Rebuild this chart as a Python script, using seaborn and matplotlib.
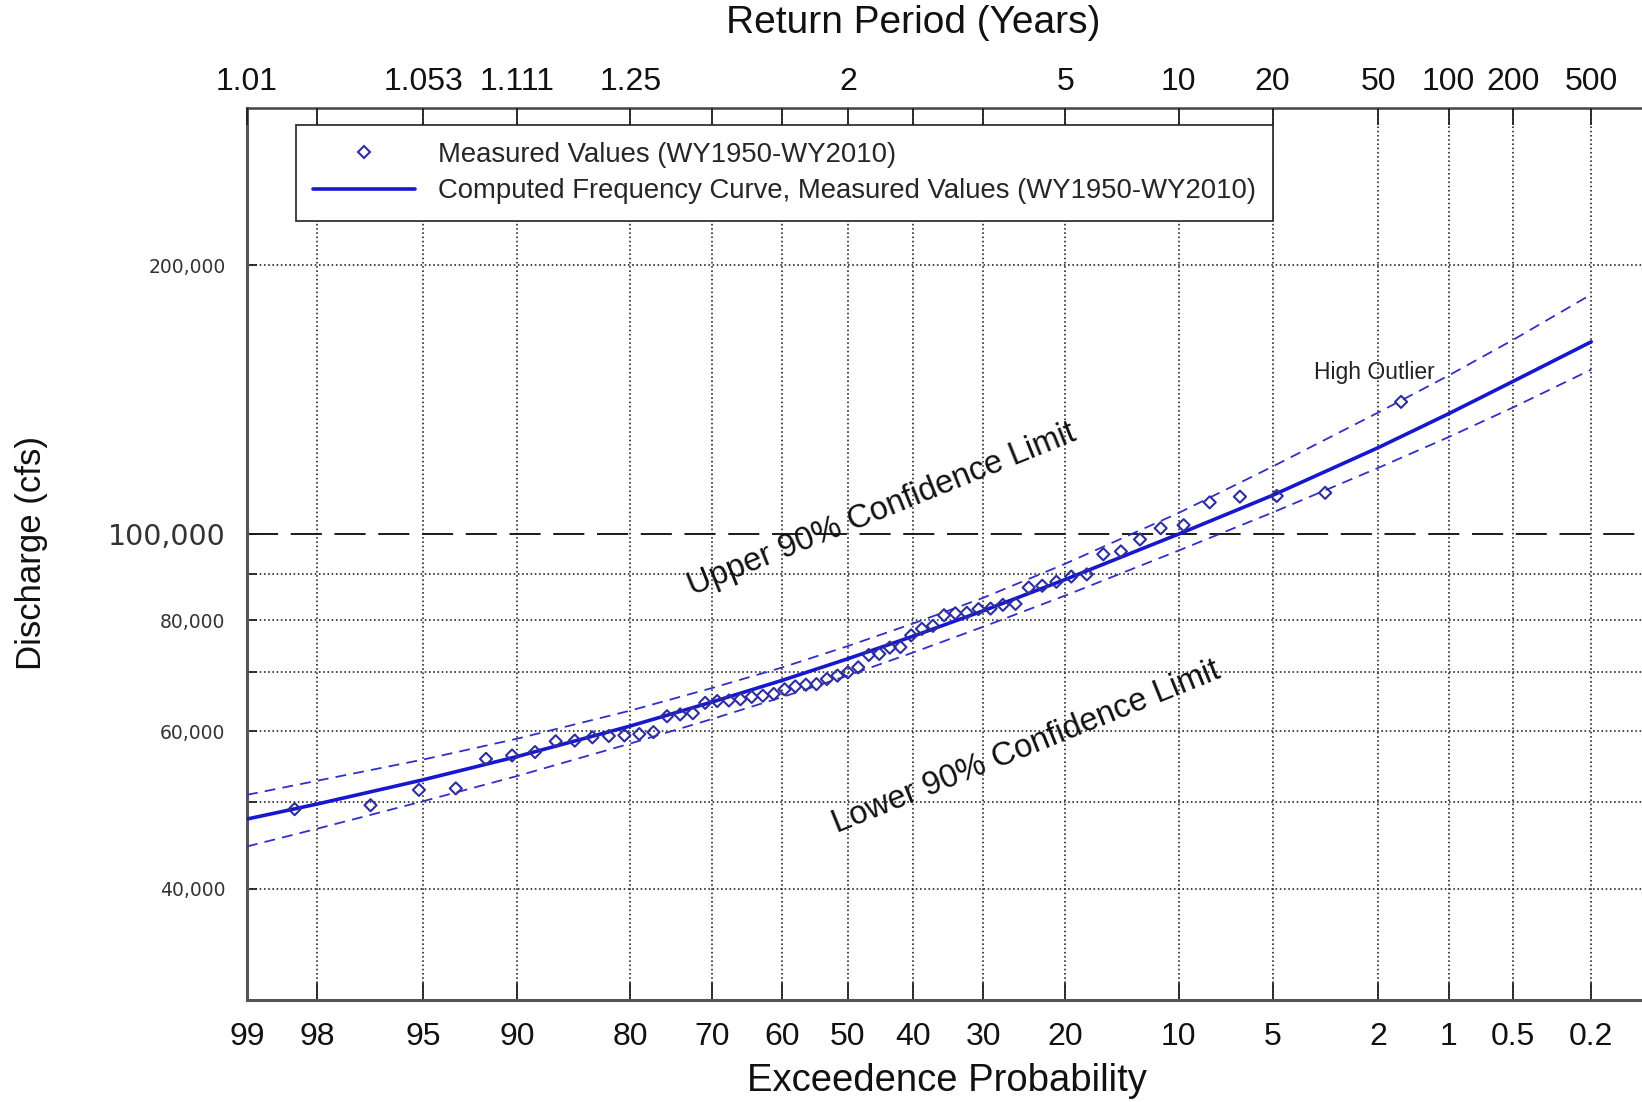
import numpy as np
import pandas as pd
from statistics import NormalDist
import matplotlib
matplotlib.use("Agg")
import matplotlib.pyplot as plt
from matplotlib.lines import Line2D
from matplotlib.ticker import NullLocator
import seaborn as sns

# Ranked annual peaks, WY1950-WY2010 (largest first), exceedance probability in %
measured_exceed = [1.61, 3.23, 4.84, 6.45, 8.06, 9.68, 11.29, 12.90, 14.52, 16.13,
                   17.74, 19.35, 20.97, 22.58, 24.19, 25.81, 27.42, 29.03, 30.65, 32.26,
                   33.87, 35.48, 37.10, 38.71, 40.32, 41.94, 43.55, 45.16, 46.77, 48.39,
                   50.00, 51.61, 53.23, 54.84, 56.45, 58.06, 59.68, 61.29, 62.90, 64.52,
                   66.13, 67.74, 69.35, 70.97, 72.58, 74.19, 75.81, 77.42, 79.03, 80.65,
                   82.26, 83.87, 85.48, 87.10, 88.71, 90.32, 91.94, 93.55, 95.16, 96.77,
                   98.39]
measured_cfs = [140500, 111100, 110200, 110000, 108400, 102200, 101400, 98500, 95500, 94800,
                90000, 89500, 88300, 87400, 87000, 83400, 83200, 82400, 82300, 81500,
                81400, 81000, 78800, 78200, 76900, 74600, 74500, 73300, 73100, 70800,
                69900, 69300, 68700, 67800, 67700, 67400, 66900, 66100, 65800, 65600,
                65200, 65000, 64900, 64600, 62900, 62700, 62400, 59900, 59600, 59400,
                59300, 59100, 58600, 58500, 56900, 56400, 55900, 51800, 51600, 49600,
                49100]

# Computed frequency curve and 90% confidence limits
curve_exceed = [99, 98, 95, 90, 80, 70, 60, 50, 40, 30, 20, 10, 5, 2, 1, 0.5, 0.2]
computed_cfs = [47860, 49760, 52960, 56230, 60860, 64760, 68480, 72390, 76740, 81940,
                88820, 99900, 110400, 124850, 136270, 148150, 164060]
upper_cfs = [50950, 52840, 55800, 58880, 63330, 67140, 70790, 74800, 79300, 84730,
             92500, 105500, 118900, 136700, 150400, 164900, 185400]
lower_cfs = [44590, 46690, 50110, 53470, 58170, 61980, 65580, 69300, 73580, 78630,
             85210, 95740, 105600, 118500, 128300, 138500, 152700]

reference_cfs = 100000

prob_ticks = [99, 98, 95, 90, 80, 70, 60, 50, 40, 30, 20, 10, 5, 2, 1, 0.5, 0.2]
prob_labels = ["99", "98", "95", "90", "80", "70", "60", "50", "40", "30", "20",
               "10", "5", "2", "1", "0.5", "0.2"]
period_labels = ["1.01", "", "1.053", "1.111", "1.25", "", "", "2", "", "", "5",
                 "10", "20", "50", "100", "200", "500"]
q_ticks = [40000, 50000, 60000, 70000, 80000, 90000, 100000, 200000]
q_labels = ["40,000", "", "60,000", "", "80,000", "", "100,000", "200,000"]

legend_labels = ["Measured Values (WY1950-WY2010)",
                 "Computed Frequency Curve, Measured Values (WY1950-WY2010)"]

line_blue = "#1717cf"
dash_blue = "#3030c8"
marker_blue = "#2e2e9e"

# normal probability scale for the x axis
_nd = NormalDist()
_ppf = np.vectorize(_nd.inv_cdf, otypes=[float])
_cdf = np.vectorize(_nd.cdf, otypes=[float])


def prob_fwd(p):
    p = np.clip(np.asarray(p, dtype=float), 1e-5, 100 - 1e-5)
    return _ppf(p / 100.0)


def prob_inv(z):
    return 100.0 * _cdf(np.asarray(z, dtype=float))


sns.set_theme(style="white")
plt.rcParams["font.family"] = ["Liberation Sans", "DejaVu Sans"]

fig = plt.figure(figsize=(16.42, 11.02), dpi=100)
ax = fig.add_axes([0.15043, 0.09256, 0.852, 0.80944])
ax.set_xscale("function", functions=(prob_fwd, prob_inv))
ax.set_yscale("log")

curves = pd.DataFrame({"exceed": curve_exceed, "computed": computed_cfs,
                       "upper": upper_cfs, "lower": lower_cfs})

ax.axhline(reference_cfs, color="k", lw=1.4, linestyle=(0, (16, 6.5)), zorder=2)
for col in ["upper", "lower"]:
    sns.lineplot(data=curves, x="exceed", y=col, ax=ax, color=dash_blue, lw=1.3,
                 linestyle=(0, (6, 4)), sort=False, estimator=None, zorder=3)
sns.lineplot(data=curves, x="exceed", y="computed", ax=ax, color=line_blue, lw=2.6,
             sort=False, estimator=None, zorder=4)
sns.scatterplot(x=measured_exceed, y=measured_cfs, ax=ax, marker="D", s=38,
                facecolor="none", edgecolor=marker_blue, linewidth=1.5, zorder=5)

ax.set_xlim(99, 0.1)
ax.set_ylim(30000, 300000)
ax.set_xlabel("")
ax.set_ylabel("")

ax.set_xticks(prob_ticks, prob_labels)
ax.set_yticks(q_ticks, q_labels)
ax.xaxis.set_minor_locator(NullLocator())
ax.yaxis.set_minor_locator(NullLocator())

ax.grid(True, which="major", color="k", linestyle=":", lw=1.15)
ax.yaxis.get_gridlines()[q_ticks.index(reference_cfs)].set_visible(False)

ax.tick_params(axis="x", direction="in", length=12, width=1.3, color="#222",
               pad=16, labelsize=23, labelcolor="#111", bottom=True, top=False)
ax.tick_params(axis="y", direction="in", length=7, width=1.3, color="#222",
               pad=15.5, labelsize=13.5, labelcolor="#333", left=True, right=False)
for lbl in ax.get_yticklabels():
    lbl.set_family("DejaVu Sans")
    if lbl.get_text() == "100,000":
        lbl.set_fontsize(20.5)

for side in ["left", "bottom"]:
    ax.spines[side].set_color("#555")
    ax.spines[side].set_linewidth(2.2)
ax.spines["top"].set_color("#444")
ax.spines["top"].set_linewidth(1.8)
ax.spines["top"].set_linestyle((0, (2, 1)))
ax.spines["right"].set_visible(False)

# return period axis on top
ax2 = ax.twiny()
ax2.set_xscale("function", functions=(prob_fwd, prob_inv))
ax2.set_xlim(ax.get_xlim())
ax2.set_xticks(prob_ticks, period_labels)
ax2.xaxis.set_minor_locator(NullLocator())
ax2.tick_params(axis="x", direction="in", length=12, width=1.3, color="#222",
                pad=8, labelsize=23, labelcolor="#111")
for sp in ax2.spines.values():
    sp.set_visible(False)

handles = [Line2D([], [], marker="D", ls="none", mfc="none", mec=marker_blue,
                  ms=6.2, mew=1.5),
           Line2D([], [], color=line_blue, lw=2.6)]
leg = ax.legend(handles, legend_labels, loc="upper left", bbox_to_anchor=(0.035, 0.981),
                borderaxespad=0, fontsize=19.8, frameon=True, fancybox=False,
                edgecolor="#333", framealpha=1, handlelength=3.7, handletextpad=0.85,
                borderpad=0.62, labelspacing=0.38)
leg.get_frame().set_linewidth(1.3)
leg.set_zorder(6)

ax.text(44.8, 106400, "Upper 90% Confidence Limit", rotation=22, ha="center",
        va="center", rotation_mode="anchor", fontsize=23.5, color="#111")
ax.text(24.5, 57540, "Lower 90% Confidence Limit", rotation=22, ha="center",
        va="center", rotation_mode="anchor", fontsize=23.5, color="#111")
ax.text(2.07, 151500, "High Outlier", ha="center", va="center", fontsize=16.5,
        color="#222")

fig.text(0.556, 0.979, "Return Period (Years)", ha="center", va="center",
         fontsize=28, color="#111")
fig.text(0.5766, 0.0193, "Exceedence Probability", ha="center", va="center",
         fontsize=27.5, color="#111")
fig.text(0.0191, 0.4982, "Discharge (cfs)", ha="center", va="center",
         rotation=90, fontsize=25, color="#111")

fig.savefig("out.png", dpi=100)
